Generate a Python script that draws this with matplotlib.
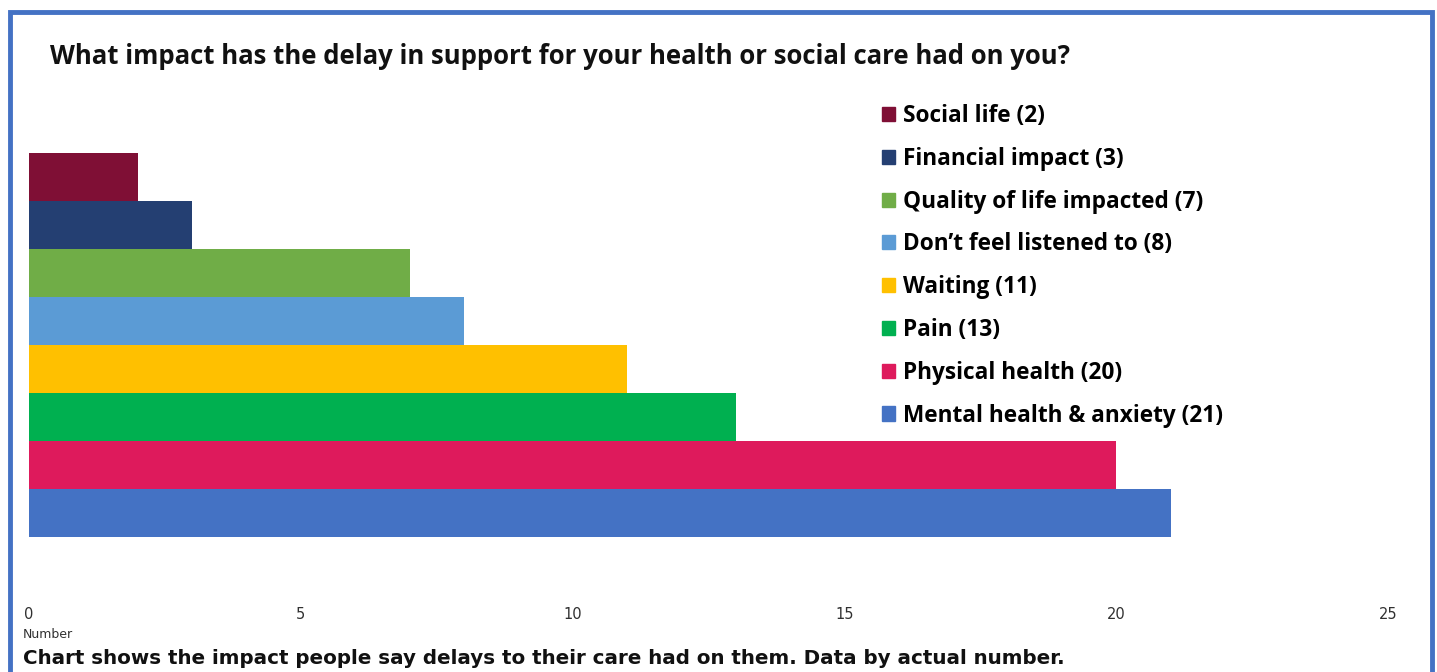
import matplotlib
matplotlib.use("Agg")
import matplotlib.pyplot as plt
from matplotlib.lines import Line2D

categories = ["Social life", "Financial impact", "Quality of life impacted",
              "Don\u2019t feel listened to", "Waiting", "Pain",
              "Physical health", "Mental health & anxiety"]
values = [2, 3, 7, 8, 11, 13, 20, 21]
colors = ["#7F0F35", "#243F72", "#70AD47", "#5B9BD5",
          "#FFC000", "#00B050", "#DE1A5C", "#4472C4"]
xticks = [0, 5, 10, 15, 20, 25]

W, H = 1437, 672
fig = plt.figure(figsize=(W / 100, H / 100), dpi=100)
fig.patch.set_facecolor("white")

def fx(px):
    return px / W

def fy(py):
    return 1 - py / H

ax = fig.add_axes([fx(29), fy(600), fx(1388) - fx(29), fy(153) - fy(600)])
n = len(categories)
ypos = [n - 1 - i for i in range(n)]
bars = ax.barh(ypos, values, height=1.0, color=colors, edgecolor="none")
ax.set_xlim(0, 25)
ax.set_ylim(-0.5 - 63 / 48, n - 0.5)
ax.set_xticks(xticks)
ax.set_xticklabels([str(t) for t in xticks], fontsize=10.5, color="#303030")
ax.tick_params(axis="x", length=0, pad=5)
ax.set_yticks([])
for s in ax.spines.values():
    s.set_visible(False)

handles = [plt.Rectangle((0, 0), 1, 1, color=c) for c in colors]
labels = [f"{c} ({v})" for c, v in zip(categories, values)]
leg = fig.legend(handles, labels, loc="upper left",
                 bbox_to_anchor=(fx(882), fy(104)),
                 prop={"family": "Open Sans", "weight": "bold", "size": 16.3},
                 frameon=False, handlelength=0.58, handleheight=0.58,
                 handletextpad=0.33, labelspacing=0.83, borderaxespad=0,
                 borderpad=0)

fig.text(fx(50), fy(57), "What impact has the delay in support for your health or social care had on you?",
         family="Open Sans", weight="bold", fontsize=18.5, color="#111111", va="center", ha="left")

fig.text(fx(23), fy(635), "Number", fontsize=9, color="#303030", va="center", ha="left")

fig.text(fx(23), fy(658), "Chart shows the impact people say delays to their care had on them. Data by actual number.",
         family="DejaVu Sans", weight="bold", fontsize=14.3, color="#111111", va="center", ha="left")

# border
bc = "#4472C4"
fig.add_artist(Line2D([fx(9.5), fx(9.5), fx(1432), fx(1432)],
                      [fy(700), fy(12), fy(12), fy(700)],
                      color=bc, lw=3.5, transform=fig.transFigure, solid_joinstyle="miter"))

fig.savefig("out.png", dpi=100, facecolor="white")
